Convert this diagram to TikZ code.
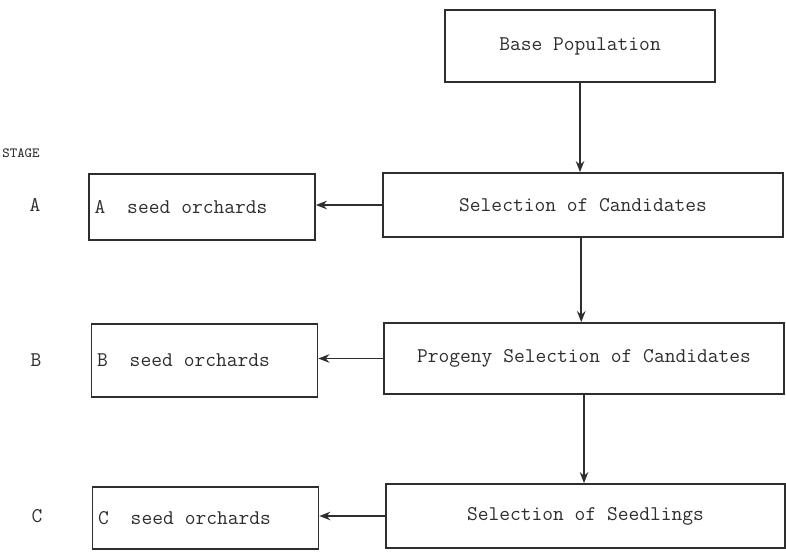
\documentclass[tikz,border=0pt]{standalone}
\usetikzlibrary{arrows.meta, positioning}
\definecolor{cink}{HTML}{2E2E2E}
\newcommand{\orchlabel}[1]{#1\hspace{1.05em}seed\hspace{0.525em}orchards}

\begin{document}
\begin{tikzpicture}[
  x=0.02cm, y=-0.02cm,
  font=\fontsize{11.9}{13}\selectfont\ttfamily,
  stagebox/.style={draw=cink, line width=1pt, text=cink, align=center, inner sep=0pt},
  orchbox/.style={draw=cink, line width=1pt, text=cink, align=left,
                  text width=4.3cm, inner xsep=0.11cm, inner ysep=0pt},
  lbl/.style={text=cink, inner sep=0pt},
  flow/.style={-{Stealth[length=2.2mm, width=1.7mm]}, line width=1pt, draw=cink}
]
\useasboundingbox (0,0) rectangle (786,551);
% main chain
\node[stagebox, minimum width=5.4cm, minimum height=1.44cm] (base) at (580,46) {Base Population};
\node[stagebox, minimum width=8cm, minimum height=1.28cm] (cand) at (583,205) {Selection of Candidates};
\node[stagebox, minimum width=8cm, minimum height=1.42cm] (prog) at (584,358.5) {Progeny Selection of Candidates};
\node[stagebox, minimum width=7.98cm, minimum height=1.28cm] (seedl) at (585.5,516) {Selection of Seedlings};
% seed orchards
\node[orchbox, minimum height=1.32cm] (orchA) at (202,207) {\orchlabel{A}};
\node[orchbox, minimum height=1.46cm] (orchB) at (204.5,360.5) {\orchlabel{B}};
\node[orchbox, minimum height=1.24cm] (orchC) at (205.5,518) {\orchlabel{C}};
% stage labels
\node[lbl, anchor=west, font=\fontsize{8}{9}\selectfont\ttfamily] (stage) at (2,153) {STAGE};
\node[lbl] (stA) at (35,205) {A};
\node[lbl] (stB) at (36,360) {B};
\node[lbl] (stC) at (37,516) {C};
% arrows
\draw[flow] (base.south) -- (base.south |- cand.north);
\draw[flow] ([xshift=-1pt]cand.south) -- ([xshift=-1pt]cand.south |- prog.north);
\draw[flow] (prog.south) -- (prog.south |- seedl.north);
\draw[flow] (cand.west) -- (cand.west -| orchA.east);
\draw[flow] (prog.west) -- (prog.west -| orchB.east);
\draw[flow] (seedl.west) -- (seedl.west -| orchC.east);
\end{tikzpicture}
\end{document}
